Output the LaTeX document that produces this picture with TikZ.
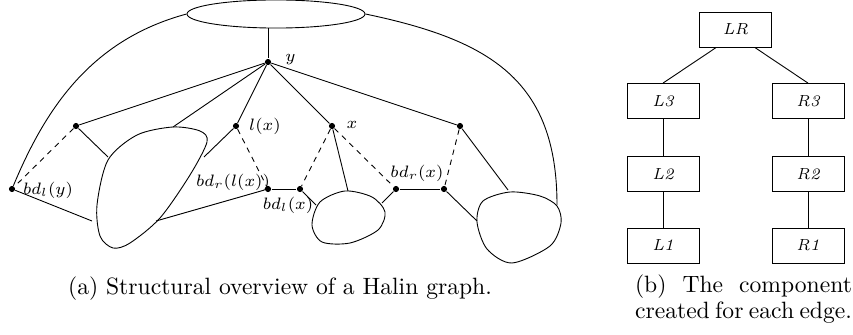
\documentclass[tikz,border=0pt]{standalone}
\usetikzlibrary{shapes.geometric}
\begin{document}
\begin{tikzpicture}[x=0.4237pt,y=-0.4237pt,
  ln/.style={line width=0.38pt},
  dsh/.style={line width=0.38pt,dash pattern=on 2.3pt off 2.1pt},
  vtx/.style={circle,fill,inner sep=0pt,minimum size=2.6pt},
  lbl/.style={font=\fontsize{6.9}{8}\selectfont,inner sep=0pt},
  treebox/.style={draw,line width=0.38pt,minimum width=30.5pt,minimum height=14.8pt,inner sep=0pt,font=\fontsize{6.8}{8}\selectfont\itshape},
  captxt/.style={font=\normalsize,inner sep=0pt}]
\useasboundingbox (0,0) rectangle (853,335);

% top ellipse
\node[draw,ellipse,ln,minimum width=75.4pt,minimum height=11.9pt,inner sep=0pt] (top) at (276,14) {};

% vertices
\node[vtx] (y) at (268,62) {};
\node[vtx] (a1) at (76,126) {};
\node[vtx] (lx) at (236,126) {};
\node[vtx] (x) at (332,126) {};
\node[vtx] (a4) at (460,126) {};
\node[vtx] (bly) at (12,189) {};
\node[vtx] (brlx) at (268,189) {};
\node[vtx] (blx) at (300,189) {};
\node[vtx] (brx) at (396,189) {};
\node[vtx] (b5) at (444,189) {};

% blob contact points
\coordinate (t0) at (268,28);
\coordinate (p1) at (173,127);
\coordinate (p2) at (108,157);
\coordinate (p3) at (204,157);
\coordinate (p4) at (92,221);
\coordinate (p5) at (156,221);
\coordinate (q1) at (316,205);
\coordinate (q2) at (348,191);
\coordinate (q3) at (382,203);
\coordinate (r1) at (508,190);
\coordinate (r2) at (477,221);
\coordinate (r3) at (557,205);

% blobs
\draw[ln] plot[smooth cycle] coordinates {(173,127) (200,131) (207,142) (190,175) (160,218) (130,243) (113,248) (100,236) (97,205) (108,160) (137,135)};
\draw[ln] plot[smooth cycle] coordinates {(345,191) (372,197) (385,212) (378,230) (350,243) (322,242) (312,225) (320,202)};
\draw[ln] plot[smooth cycle] coordinates {(510,192) (540,196) (557,206) (561,223) (550,246) (512,263) (487,249) (477,222) (483,201)};

% solid edges
\draw[ln] (t0) -- (y);
\draw[ln] (y) -- (a1);
\draw[ln] (y) -- (p1);
\draw[ln] (y) -- (lx);
\draw[ln] (y) -- (x);
\draw[ln] (y) -- (a4);
\draw[ln] (a1) -- (p2);
\draw[ln] (lx) -- (p3);
\draw[ln] (bly) -- (p4);
\draw[ln] (brlx) -- (p5);
\draw[ln] (brlx) -- (blx);
\draw[ln] (blx) -- (q1);
\draw[ln] (x) -- (q2);
\draw[ln] (brx) -- (q3);
\draw[ln] (brx) -- (b5);
\draw[ln] (a4) -- (r1);
\draw[ln] (b5) -- (r2);

% dashed edges
\draw[dsh] (a1) -- (bly);
\draw[dsh] (lx) -- (brlx);
\draw[dsh] (x) -- (blx);
\draw[dsh] (x) -- (brx);
\draw[dsh] (a4) -- (b5);

% outer arcs
\draw[ln] (top.west) .. controls (90,40) and (45,110) .. (bly);
\draw[ln] (top.east) .. controls (490,40) and (557,80) .. (r3);

% labels
\node[lbl,anchor=west] (ly) at (285,60) {$y$};
\node[lbl] (llx) at (265,126) {$l(x)$};
\node[lbl] (lxx) at (352,125) {$x$};
\node[lbl] (lbly) at (48,190) {$bd_l(y)$};
\node[lbl] (lbrlx) at (233,182) {$bd_r(l(x))$};
\node[lbl] (lblx) at (288,205) {$bd_l(x)$};
\node[lbl] (lbrx) at (417,173) {$bd_r(x)$};

% tree
\node[treebox] (LR) at (735.5,29.5) {LR};
\node[treebox] (L3) at (663,101) {L3};
\node[treebox] (R3) at (808,101) {R3};
\node[treebox] (L2) at (663,174) {L2};
\node[treebox] (R2) at (808,174) {R2};
\node[treebox] (L1) at (663,245.5) {L1};
\node[treebox] (R1) at (808,245.5) {R1};
\draw[ln] (LR.-137) -- (L3.north);
\draw[ln] (LR.-43) -- (R3.north);
\draw[ln] (L3) -- (L2);
\draw[ln] (L2) -- (L1);
\draw[ln] (R3) -- (R2);
\draw[ln] (R2) -- (R1);

% captions
\node[captxt] (capa) at (280,289) {(a) Structural overview of a Halin graph.};
\node[captxt] (capb1) at (743.5,287) {\makebox[91.9pt][s]{(b) The component}};
\node[captxt] (capb2) at (743.5,313) {\makebox[91.9pt][s]{created for each edge.}};
\end{tikzpicture}
\end{document}
